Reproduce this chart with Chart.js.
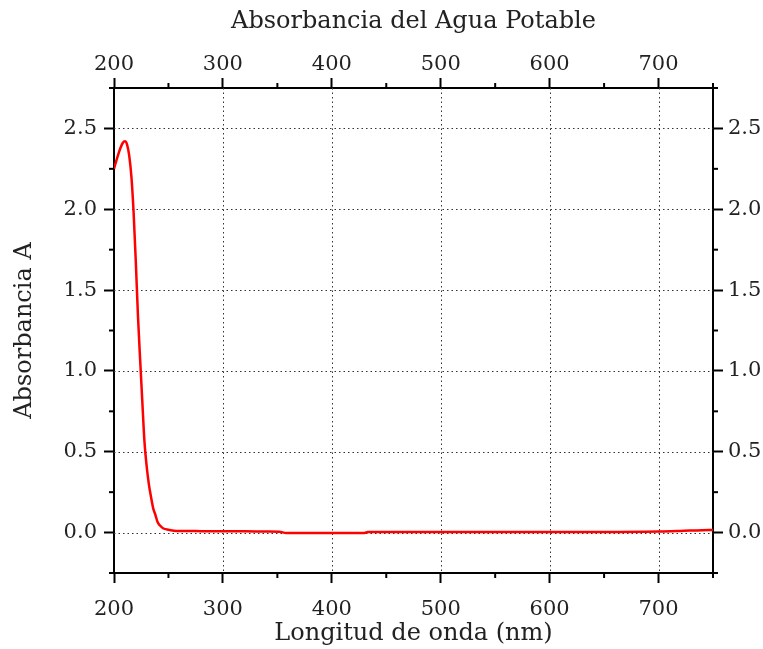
<!DOCTYPE html>
<html>
<head>
<meta charset="utf-8">
<script src="https://cdn.jsdelivr.net/npm/chart.js@4.4.1/dist/chart.umd.min.js"></script>
<style>
  html, body { margin: 0; padding: 0; background: #ffffff; }
  #wrap { width: 763px; height: 649px; }
</style>
</head>
<body>
<div id="wrap"><canvas id="c" width="763" height="649"></canvas></div>
<script>
// ---- data ----
const wavelengths = [200, 203, 206, 208, 210, 212, 214, 216, 218, 220, 222, 224, 226, 228, 230, 232, 234, 236, 238, 240, 242, 245, 250, 255, 260, 280, 300, 320, 340, 352, 358, 380, 400, 420, 430, 433, 460, 500, 560, 600, 650, 700, 720, 740, 750];
const absorbance  = [2.25, 2.32, 2.38, 2.41, 2.42, 2.40, 2.33, 2.20, 1.98, 1.68, 1.34, 1.07, 0.81, 0.56, 0.41, 0.30, 0.22, 0.15, 0.11, 0.065, 0.045, 0.027, 0.017, 0.012, 0.010, 0.009, 0.008, 0.008, 0.006, 0.005, -0.002, -0.003, -0.003, -0.002, -0.002, 0.003, 0.004, 0.004, 0.004, 0.004, 0.003, 0.006, 0.010, 0.015, 0.016];

const xMajorTicks = [200, 300, 400, 500, 600, 700];
const xMinorTicks = [250, 350, 450, 550, 650, 750];
const yMajorTicks = [0.0, 0.5, 1.0, 1.5, 2.0, 2.5];
const yMinorTicks = [-0.25, 0.25, 0.75, 1.25, 1.75, 2.25, 2.75];

const chartTitle = 'Absorbancia del Agua Potable';
const xTitle = 'Longitud de onda (nm)';
const yTitle = 'Absorbancia A';

const X_MIN = 200, X_MAX = 750, Y_MIN = -0.25, Y_MAX = 2.75;

const FONT = "'DejaVu Serif', 'Liberation Serif', serif";
const tickFont = { family: FONT, size: 21 };
const titleFont = { family: FONT, size: 24 };

const points = wavelengths.map((w, i) => ({ x: w, y: absorbance[i] }));

function setTicks(values) {
  return function (scale) { scale.ticks = values.map(v => ({ value: v })); };
}
function fixSize(prop, size) {
  return function (scale) { scale[prop] = size; };
}

const commonGrid = { display: true, drawOnChartArea: false, drawTicks: true, tickLength: 10, tickColor: '#000', tickWidth: 2, color: '#000' };
const commonBorder = { display: true, color: '#000', width: 2 };

// plugin: dotted grid + minor ticks, using library scales
const extras = {
  id: 'extras',
  beforeDatasetsDraw(chart) {
    const ctx = chart.ctx;
    const a = chart.chartArea;
    const xs = chart.scales.x, ys = chart.scales.y;
    ctx.save();
    ctx.strokeStyle = '#333';
    ctx.lineWidth = 1;
    ctx.setLineDash([1.5, 3]);
    xMajorTicks.forEach(v => {
      const px = Math.round(xs.getPixelForValue(v)) + 0.5;
      if (px <= a.left + 2 || px >= a.right - 2) return;
      ctx.beginPath(); ctx.moveTo(px, a.top); ctx.lineTo(px, a.bottom); ctx.stroke();
    });
    yMajorTicks.forEach(v => {
      const py = Math.round(ys.getPixelForValue(v)) + 0.5;
      if (py <= a.top + 2 || py >= a.bottom - 2) return;
      ctx.beginPath(); ctx.moveTo(a.left, py); ctx.lineTo(a.right, py); ctx.stroke();
    });
    ctx.restore();
  },
  afterDraw(chart) {
    const ctx = chart.ctx;
    const a = chart.chartArea;
    const xs = chart.scales.x, ys = chart.scales.y;
    const L = 5;
    ctx.save();
    ctx.strokeStyle = '#000';
    ctx.lineWidth = 2;
    ctx.setLineDash([]);
    xMinorTicks.forEach(v => {
      const px = xs.getPixelForValue(v);
      ctx.beginPath(); ctx.moveTo(px, a.bottom); ctx.lineTo(px, a.bottom + L); ctx.stroke();
      ctx.beginPath(); ctx.moveTo(px, a.top); ctx.lineTo(px, a.top - L); ctx.stroke();
    });
    yMinorTicks.forEach(v => {
      const py = ys.getPixelForValue(v);
      ctx.beginPath(); ctx.moveTo(a.left, py); ctx.lineTo(a.left - L, py); ctx.stroke();
      ctx.beginPath(); ctx.moveTo(a.right, py); ctx.lineTo(a.right + L, py); ctx.stroke();
    });
    ctx.restore();
  }
};

new Chart(document.getElementById('c'), {
  type: 'line',
  data: {
    datasets: [{
      data: points,
      borderColor: '#ff0000',
      borderWidth: 2.5,
      pointRadius: 0,
      fill: false,
      cubicInterpolationMode: 'monotone'
    }]
  },
  options: {
    responsive: false,
    animation: false,
    devicePixelRatio: 1,
    layout: { padding: 0 },
    plugins: { legend: { display: false }, tooltip: { enabled: false }, title: { display: false } },
    scales: {
      x: {
        type: 'linear', position: 'bottom', min: X_MIN, max: X_MAX,
        afterBuildTicks: setTicks(xMajorTicks),
        afterFit: fixSize('height', 76),
        grid: commonGrid, border: commonBorder,
        ticks: { font: tickFont, color: '#222', padding: 14, maxRotation: 0, callback: v => String(v) },
        title: { display: true, text: xTitle, font: titleFont, color: '#222', padding: { top: 0, bottom: 1 } }
      },
      x2: {
        type: 'linear', position: 'top', min: X_MIN, max: X_MAX,
        afterBuildTicks: setTicks(xMajorTicks),
        afterFit: fixSize('height', 88),
        grid: commonGrid, border: commonBorder,
        ticks: { font: tickFont, color: '#222', padding: 1, maxRotation: 0, callback: v => String(v) },
        title: { display: true, text: chartTitle, font: titleFont, color: '#222', padding: { top: 7, bottom: 0 } }
      },
      y: {
        type: 'linear', position: 'left', min: Y_MIN, max: Y_MAX,
        afterBuildTicks: setTicks(yMajorTicks),
        afterFit: fixSize('width', 114),
        grid: commonGrid, border: commonBorder,
        ticks: { font: tickFont, color: '#222', padding: 7, callback: v => Number(v).toFixed(1) },
        title: { display: true, text: yTitle, font: titleFont, color: '#222', padding: { top: 10, bottom: 0 } }
      },
      y2: {
        type: 'linear', position: 'right', min: Y_MIN, max: Y_MAX,
        afterBuildTicks: setTicks(yMajorTicks),
        afterFit: fixSize('width', 50),
        grid: commonGrid, border: commonBorder,
        ticks: { font: tickFont, color: '#222', padding: 5, callback: v => Number(v).toFixed(1) }
      }
    }
  },
  plugins: [extras]
});
</script>
</body>
</html>
